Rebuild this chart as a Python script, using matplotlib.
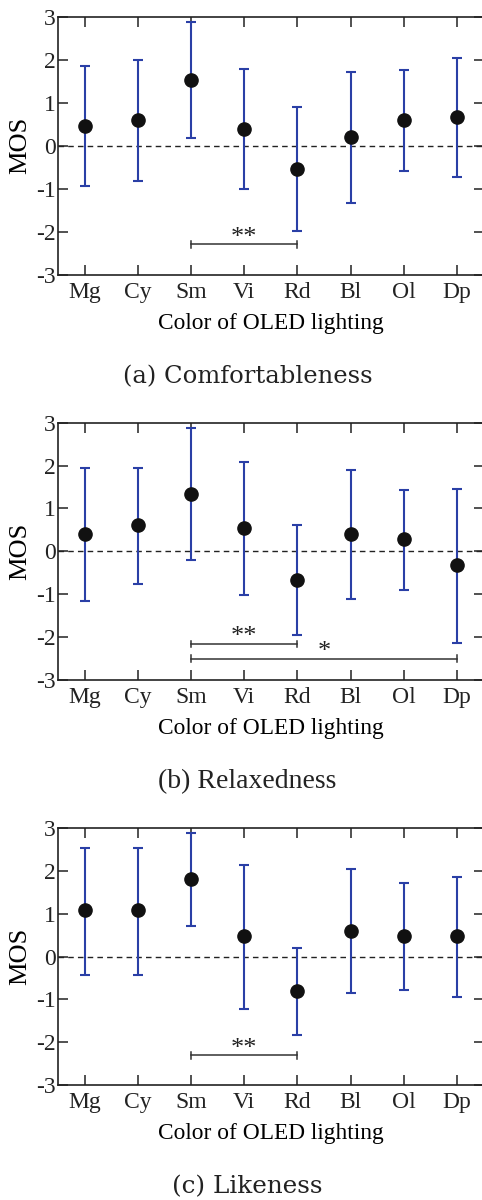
import numpy as np
import matplotlib
matplotlib.use("Agg")
import matplotlib.pyplot as plt

# MOS per OLED lighting colour, with upper / lower ends of the error bars
colors = ["Mg", "Cy", "Sm", "Vi", "Rd", "Bl", "Ol", "Dp"]

comfort_mean = [0.47, 0.61, 1.53, 0.40, -0.53, 0.21, 0.61, 0.67]
comfort_hi = [1.86, 1.99, 2.87, 1.79, 0.91, 1.71, 1.77, 2.04]
comfort_lo = [-0.94, -0.81, 0.18, -1.01, -1.98, -1.32, -0.58, -0.73]

relax_mean = [0.41, 0.61, 1.34, 0.54, -0.66, 0.41, 0.28, -0.32]
relax_hi = [1.94, 1.94, 2.87, 2.08, 0.61, 1.90, 1.43, 1.46]
relax_lo = [-1.15, -0.75, -0.21, -1.02, -1.96, -1.10, -0.89, -2.13]

like_mean = [1.08, 1.08, 1.81, 0.48, -0.80, 0.60, 0.48, 0.48]
like_hi = [2.55, 2.55, 2.89, 2.14, 0.21, 2.05, 1.71, 1.87]
like_lo = [-0.42, -0.42, 0.72, -1.22, -1.83, -0.86, -0.79, -0.95]

# significance brackets: (from, to, y, label)
comfort_sig = [("Sm", "Rd", -2.29, "**")]
relax_sig = [("Sm", "Rd", -2.16, "**"), ("Sm", "Dp", -2.50, "*")]
like_sig = [("Sm", "Rd", -2.31, "**")]

captions = ["(a) Comfortableness", "(b) Relaxedness", "(c) Likeness"]
caption_fonts = ["DejaVu Serif", "Liberation Serif", "DejaVu Serif"]
caption_sizes = [17.5, 20, 17.7]

plt.rcParams['font.family'] = ['Liberation Serif', 'DejaVu Serif']
plt.rcParams['axes.unicode_minus'] = False

BLUE = "#2a3fa6"
W, H = 482.0, 1200.0

fig = plt.figure(figsize=(4.82, 12), dpi=100)

panels = [
    (comfort_mean, comfort_hi, comfort_lo, comfort_sig, 16.7, 275.0),
    (relax_mean, relax_hi, relax_lo, relax_sig, 422.7, 680.0),
    (like_mean, like_hi, like_lo, like_sig, 828.3, 1085.0),
]

x = np.arange(1, len(colors) + 1)

for i, (m, hi, lo, sig, top, bot) in enumerate(panels):
    left, right = 58.3, 483.5
    ax = fig.add_axes([left / W, 1 - bot / H, (right - left) / W, (bot - top) / H])
    m = np.array(m)
    yerr = [m - np.array(lo), np.array(hi) - m]
    ax.errorbar(x, m, yerr=yerr, fmt='none', ecolor=BLUE, elinewidth=1.5,
                capsize=3.3, capthick=1.5, zorder=2)
    ax.plot(x, m, 'o', color='#111111', markersize=9.5, zorder=3)
    ax.axhline(0, color='#222222', linestyle=(0, (4, 3)), linewidth=1.0, zorder=1)

    for a, b, y, lab in sig:
        xa, xb = colors.index(a) + 1, colors.index(b) + 1
        ax.plot([xa, xb], [y, y], color='#333333', linewidth=1.1)
        ax.plot([xa, xa], [y - 0.08, y + 0.08], color='#333333', linewidth=1.1)
        ax.plot([xb, xb], [y - 0.08, y + 0.08], color='#333333', linewidth=1.1)
        ax.text((xa + xb) / 2, y + 0.02, lab, ha='center', va='baseline',
                fontsize=19, color='#222222')

    ax.set_xlim(0.5, 8.5)
    ax.set_ylim(-3, 3)
    ax.set_xticks(x)
    ax.set_xticklabels(colors)
    ax.set_yticks(range(-3, 4))
    ax.tick_params(direction='in', length=7.5, width=1.1, labelsize=17,
                   top=True, right=True, colors='#222222')
    ax.tick_params(axis='x', pad=5)
    ax.tick_params(axis='y', pad=2)
    for s in ax.spines.values():
        s.set_linewidth(1.2)
        s.set_color('#222222')
    ax.set_ylabel("MOS", fontsize=19, labelpad=3)
    ax.set_xlabel("Color of OLED lighting", fontsize=16.8, labelpad=7)

    fig.text(247.5 / W, 1 - (bot + 102) / H, captions[i], ha='center',
             va='center', fontsize=caption_sizes[i],
             family=caption_fonts[i], color='#222222')

fig.savefig("out.png", dpi=100, facecolor='white')
